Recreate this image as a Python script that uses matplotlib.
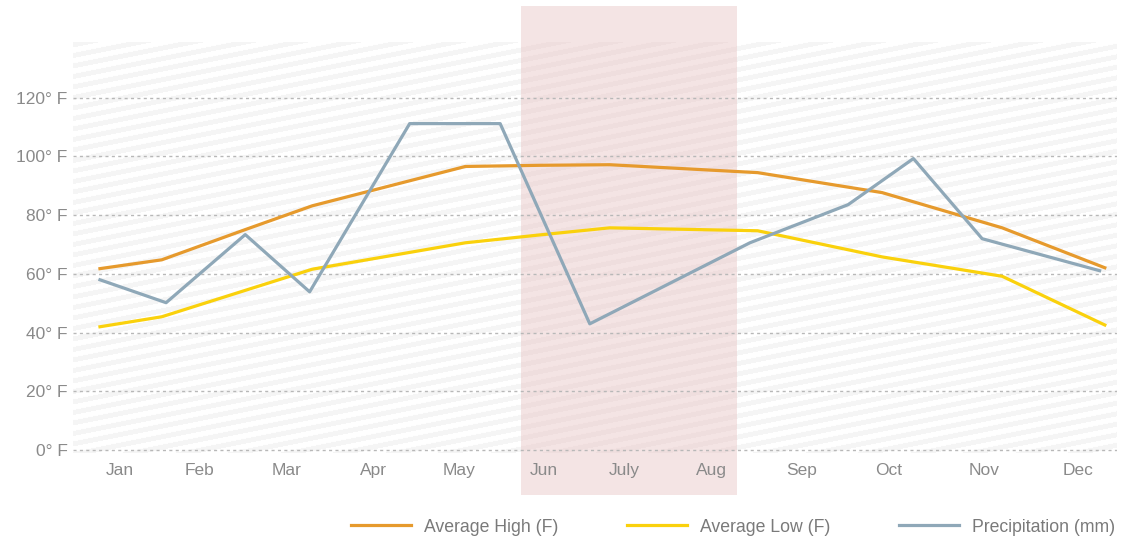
import numpy as np
import matplotlib
matplotlib.use("Agg")
import matplotlib.pyplot as plt

plt.rcParams['font.family'] = ['Liberation Sans', 'DejaVu Sans']

# month axis: 0..12
month_labels = ['Jan', 'Feb', 'Mar', 'Apr', 'May', 'Jun', 'July', 'Aug', 'Sep', 'Oct', 'Nov', 'Dec']
month_pos = [0.54, 1.45, 2.46, 3.45, 4.44, 5.41, 6.34, 7.34, 8.37, 9.38, 10.47, 11.55]

temp_x = [0.31, 1.02, 1.98, 2.75, 4.51, 5.37, 6.17, 7.87, 9.30, 10.68, 11.86]
avg_high = [61.8, 64.8, 75.1, 83.2, 96.6, 97.0, 97.2, 94.5, 87.7, 75.7, 62.1]
avg_low = [42.0, 45.4, 54.4, 61.6, 70.6, 73.3, 75.7, 74.7, 65.8, 59.2, 42.6]

precip_x = [0.31, 1.07, 1.98, 2.72, 3.87, 4.91, 5.94, 7.78, 8.91, 9.66, 10.45, 11.80]
precip = [58.0, 50.2, 73.4, 53.9, 111.2, 111.2, 43.0, 70.6, 83.6, 99.3, 72.0, 61.1]

y_ticks = [0, 20, 40, 60, 80, 100, 120]
summer = (5.15, 7.63)

fig = plt.figure(figsize=(11.35, 5.45), dpi=100)
ax = fig.add_axes([73 / 1135, 1 - 453 / 545, 1044 / 1135, 411 / 545])
ax.set_xlim(0, 12)
ax.set_ylim(-1, 139)

# striped background
h, w = 411, 1044
yy, xx = np.mgrid[0:h, 0:w]
phase = ((yy + 0.2 * xx) % 10.5) < 5.0
stripes = np.where(phase, 0.962, 1.0)
ax.imshow(np.dstack([stripes] * 3), extent=(0, 12, -1, 139), aspect='auto',
          origin='upper', zorder=0, interpolation='bilinear')

# summer band, runs past the axes
ax.axvspan(summer[0], summer[1], ymin=-0.102, ymax=1.088, color='#e8c4c4',
           alpha=0.45, lw=0, clip_on=False, zorder=1)

for v in y_ticks:
    ax.axhline(v, color='#b8b8b8', lw=1.0, ls=(0, (2.2, 2.4)), zorder=2)

ax.plot(temp_x, avg_high, color='#e69a2d', lw=2.3, zorder=4, label='Average High (F)')
ax.plot(temp_x, avg_low, color='#fad10c', lw=2.3, zorder=4, label='Average Low (F)')
ax.plot(precip_x, precip, color='#8fa8b8', lw=2.3, zorder=5, label='Precipitation (mm)')

ax.set_yticks(y_ticks)
ax.set_yticklabels([f'{v}° F' for v in y_ticks])
ax.set_xticks(month_pos)
ax.set_xticklabels(month_labels)
ax.tick_params(length=0, colors='#8a8a8a', labelsize=12.5)
ax.tick_params(axis='y', pad=4)
ax.tick_params(axis='x', pad=7)
for s in ax.spines.values():
    s.set_visible(False)

fig.legend(loc='center right', bbox_to_anchor=(1124 / 1135, 1 - 527 / 545),
           ncol=3, frameon=False, fontsize=12.7, labelcolor='#7a7a7a',
           handlelength=3.4, handletextpad=0.74, columnspacing=3.9, borderpad=0)

fig.savefig('out.png', dpi=100)
